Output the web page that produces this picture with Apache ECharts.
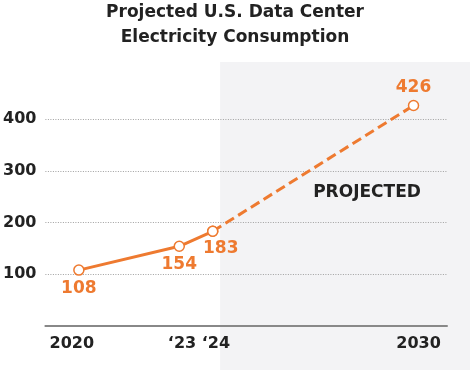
<!DOCTYPE html>
<html>
<head>
<meta charset="utf-8">
<script src="https://cdn.jsdelivr.net/npm/echarts@6/dist/echarts.min.js"></script>
<style>html,body{margin:0;padding:0;background:#fff}#c{width:470px;height:370px}</style>
</head>
<body>
<div id="c"></div>
<script>
const titleLines = ['Projected U.S. Data Center', 'Electricity Consumption'];
const actualYears = [2020, 2023, 2024];
const actualValues = [108, 154, 183];
const projYears = [2024, 2030];
const projValues = [183, 426];
const xTickValues = [2020, 2023.5, 2030];
const xTickLabels = ['2020', '\u201823 \u201824', '2030'];
const yTicks = [100, 200, 300, 400];
const projectedStart = 2024.22;
const projectedLabel = 'PROJECTED';

const ORANGE = '#ee7a30';
const DARK = '#222222';
const FONT = 'DejaVu Sans';

const chart = echarts.init(document.getElementById('c'), null, {renderer: 'canvas'});

function pairs(xs, ys) { return xs.map((x, i) => [x, ys[i]]); }

const labelOffsets = {2020: [0, 18], 2023: [0, 18], 2024: [8, 17], 2030: [0, -18]};
const xLabelStyles = ['l', 'm', 'r'];

function labelFor(showSet) {
  return {
    show: true,
    position: 'inside',
    color: ORANGE,
    fontFamily: FONT,
    fontWeight: 'bold',
    fontSize: 17,
    formatter: p => showSet.includes(p.value[0]) ? String(p.value[1]) : ''
  };
}

const xLabelBase = {fontFamily: FONT, fontWeight: 'bold', fontSize: 16, color: DARK};

const option = {
  animation: false,
  title: {
    text: titleLines.join('\n'),
    left: 'center',
    top: 0,
    padding: 0,
    textStyle: {fontFamily: FONT, fontWeight: 'bold', fontSize: 17, color: DARK, lineHeight: 25}
  },
  grid: {left: 45, right: 23, top: 119, bottom: 44},
  xAxis: {
    type: 'value', min: 2019, max: 2031,
    splitLine: {show: false},
    axisTick: {show: false},
    axisLine: {show: true, lineStyle: {color: '#888', width: 2}},
    axisLabel: {
      customValues: xTickValues,
      formatter: v => {
        const i = xTickValues.indexOf(v);
        return i < 0 ? '' : '{' + xLabelStyles[i] + '|' + xTickLabels[i] + '}';
      },
      rich: {
        l: Object.assign({padding: [0, 14, 0, 0]}, xLabelBase),
        m: Object.assign({padding: [0, 0, 0, 6]}, xLabelBase),
        r: Object.assign({padding: [0, 0, 0, 10]}, xLabelBase)
      },
      fontFamily: FONT, fontWeight: 'bold', fontSize: 16, color: DARK, margin: 10
    }
  },
  yAxis: {
    type: 'value', min: 0, max: 400, interval: 100,
    axisLine: {show: false}, axisTick: {show: false},
    splitLine: {show: true, lineStyle: {color: '#a0a0a0', type: [1, 1.5], width: 1}},
    axisLabel: {
      formatter: v => yTicks.includes(v) ? String(v) : '',
      fontFamily: FONT, fontWeight: 'bold', fontSize: 16, color: DARK, margin: 9
    }
  },
  series: [
    {
      type: 'line', z: 3,
      data: pairs(projYears, projValues),
      clip: false,
      lineStyle: {color: ORANGE, width: 3, type: [10, 5]},
      symbol: 'circle', symbolSize: 10,
      itemStyle: {color: '#fff', borderColor: ORANGE, borderWidth: 1.5},
      label: labelFor([2030])
    },
    {
      type: 'line', z: 4,
      data: pairs(actualYears, actualValues),
      clip: false,
      lineStyle: {color: ORANGE, width: 3},
      symbol: 'circle', symbolSize: 10,
      itemStyle: {color: '#fff', borderColor: ORANGE, borderWidth: 1.5},
      label: labelFor(actualYears)
    }
  ]
};

option.series.forEach(s => {
  s.data = s.data.map(d => ({value: d, label: {offset: labelOffsets[d[0]]}}));
});

chart.setOption(option);

const px = chart.convertToPixel({xAxisIndex: 0}, projectedStart);
chart.setOption({
  graphic: [
    {type: 'rect', z: -10, silent: true,
     shape: {x: px, y: 62, width: 470 - px, height: 370 - 62},
     style: {fill: '#f3f3f5'}},
    {type: 'text', z: 10, silent: true,
     x: 367, y: 193,
     style: {text: projectedLabel, fontFamily: FONT, fontWeight: 'bold', fontSize: 17, fill: DARK,
             align: 'center', verticalAlign: 'middle'}}
  ]
});
</script>
</body>
</html>
